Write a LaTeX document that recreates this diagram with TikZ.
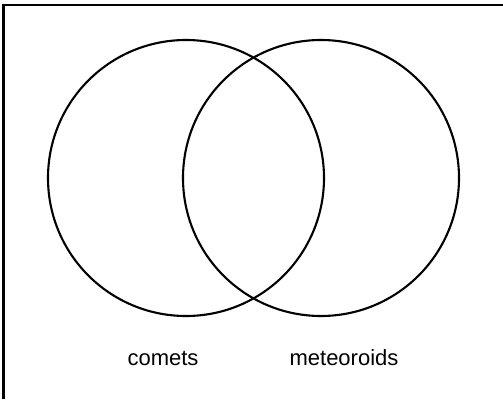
\documentclass[tikz,border=0pt]{standalone}
\usepackage{fontspec}
\setmainfont{Liberation Sans}
\usetikzlibrary{positioning}

\begin{document}
\begin{tikzpicture}[x=1pt, y=-1pt,
  set/.style={draw, circle, line width=2.1pt, minimum size=276pt, inner sep=0pt},
  lbl/.style={font=\fontsize{22}{26}\selectfont, anchor=base, inner sep=0pt}]

  % Frame: only its top and left sides show
  \useasboundingbox (0,0) rectangle (503,399);
  \draw[line width=2.6pt] (3.5,399) -- (3.5,5) -- (503,5);

  % The two sets
  \node[set] (comets) at (186,178) {};
  \node[set] (meteors) at (321,178) {};

  % Names under each set
  \node[lbl] (lcomets) at (163,365) {comets};
  \node[lbl] (lmeteors) at (344,365) {meteoroids};

\end{tikzpicture}
\end{document}
